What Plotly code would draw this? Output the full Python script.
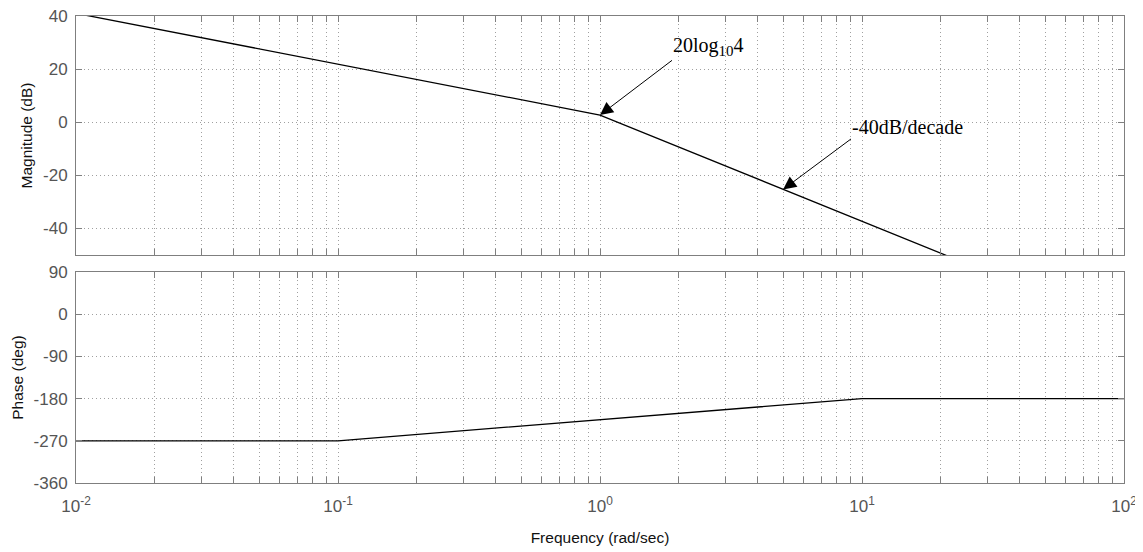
import numpy as np
import plotly.graph_objects as go
from plotly.subplots import make_subplots

# ---- data ----
mag_freq = [0.01, 1.0, 100.0]
mag_db = [41.0, 2.7, -77.3]
phase_freq = [0.01, 0.1, 10.0, 100.0]
phase_deg = [-270, -270, -180, -180]

decades = [0.01, 0.1, 1, 10, 100]
decade_labels = ["10<sup>-2</sup>", "10<sup>-1</sup>", "10<sup>0</sup>", "10<sup>1</sup>", "10<sup>2</sup>"]
minor_vals = [m * d for d in [0.01, 0.1, 1, 10] for m in range(2, 10)]
mag_ticks = [-40, -20, 0, 20, 40]
mag_labels = ["-40", "-20", "0", "20", "40"]
phase_ticks = [-360, -270, -180, -90, 0, 90]
phase_labels = ["-360", "-270", "-180", "-90", "0", "90"]

ann1_text = "20log<sub><span style='font-size:15px'>10</span></sub>4"
ann1_tip = (1.0, 2.7)
ann1_tail = (10 ** 0.2748, 23.3)
ann2_text = "-40dB/decade"
ann2_tip = (5.0, -25.3)
ann2_tail = (10 ** 0.958, -6.3)

fig = make_subplots(rows=2, cols=1, shared_xaxes=False, vertical_spacing=0.0364,
                    row_heights=[239, 211])

fig.add_trace(go.Scatter(x=mag_freq, y=mag_db, mode="lines",
                         line=dict(color="black", width=1.3), showlegend=False), row=1, col=1)
fig.add_trace(go.Scatter(x=phase_freq, y=phase_deg, mode="lines",
                         line=dict(color="black", width=1.3), showlegend=False), row=2, col=1)

axis_gray = "#7f7f7f"
grid_gray = "#a0a0a0"
tick_font = dict(family="Liberation Sans, Arial", size=17, color="#555555")
title_font = dict(family="Liberation Sans, Arial", size=15.5, color="#111111")

xcommon = dict(type="log", range=[-2, 2], showline=True, linecolor=axis_gray, linewidth=1,
               mirror="ticks", ticks="inside", ticklen=6, tickcolor=axis_gray,
               tickvals=decades, ticktext=decade_labels, automargin=False,
               showgrid=True, gridcolor=grid_gray, griddash="1px,3px", gridwidth=1,
               minor=dict(tickvals=minor_vals, ticks="inside", ticklen=6, tickcolor=axis_gray,
                          showgrid=True, gridcolor=grid_gray, griddash="1px,3px", gridwidth=1),
               zeroline=False, tickfont=tick_font, ticklabelstandoff=8,
               ticklabeloverflow="allow")
fig.update_xaxes(**xcommon)
fig.update_xaxes(showticklabels=False, row=1, col=1)
fig.update_xaxes(title=dict(text="Frequency (rad/sec)", standoff=16, font=title_font),
                 row=2, col=1)

ycommon = dict(showline=True, linecolor=axis_gray, linewidth=1, mirror="ticks",
               ticks="inside", ticklen=6, tickcolor=axis_gray, automargin=False,
               showgrid=True, gridcolor=grid_gray, griddash="1px,3px", gridwidth=1,
               zeroline=False, tickfont=tick_font, ticklabelstandoff=4,
               ticklabeloverflow="allow")
fig.update_yaxes(**ycommon)
fig.update_yaxes(range=[-50, 40], tickvals=mag_ticks, ticktext=mag_labels,
                 title=dict(text="Magnitude (dB)", standoff=6, font=title_font),
                 row=1, col=1)
fig.update_yaxes(range=[-360, 90], tickvals=phase_ticks, ticktext=phase_labels,
                 title=dict(text="Phase (deg)", standoff=6, font=title_font),
                 row=2, col=1)

ann_font = dict(family="Liberation Serif, Times New Roman", size=20, color="black")
for text, tip, tail in [(ann1_text, ann1_tip, ann1_tail), (ann2_text, ann2_tip, ann2_tail)]:
    fig.add_annotation(x=np.log10(tip[0]), y=tip[1], ax=np.log10(tail[0]), ay=tail[1],
                       xref="x", yref="y", axref="x", ayref="y",
                       text=text, showarrow=True, arrowhead=2, arrowsize=2.6, arrowwidth=1,
                       arrowcolor="black", xanchor="left", yanchor="bottom",
                       font=ann_font, borderpad=0)

# page body has an 8px margin, so the figure is 8px smaller in each direction
fig.update_layout(width=1135, height=544, margin=dict(l=68, r=19, t=8, b=69),
                  paper_bgcolor="white", plot_bgcolor="white")
fig.write_html("out.html")
